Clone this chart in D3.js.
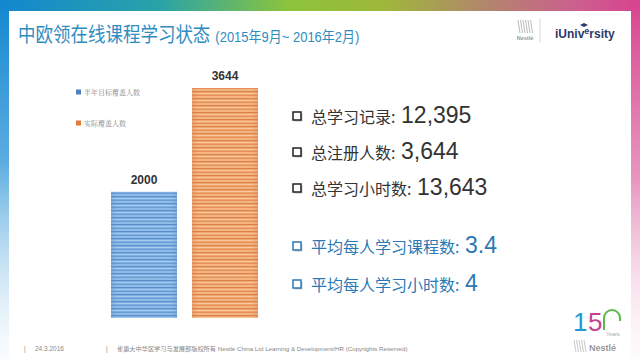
<!DOCTYPE html>
<html><head><meta charset="utf-8">
<script src="https://cdn.jsdelivr.net/npm/d3@7"></script>
<style>html,body{margin:0;padding:0;background:#fff;}svg{display:block;}</style>
</head><body>
<svg id="c" width="640" height="360"></svg>
<script>
// ---- data ----
const categories = ["半年目标覆盖人数", "实际覆盖人数"];
const values = [2000, 3644];
const barColors = ["#7db0e2", "#f2a56a"];
const legendColors = ["#4f81bd", "#e07b39"];
const stripeDark = ["#5a8ecb", "#d9824a"];
const stripeLight = ["#a6c9ee", "#f8c59c"];
const statLabels = ["总学习记录: ", "总注册人数: ", "总学习小时数: ", "平均每人学习课程数: ", "平均每人学习小时数: "];
const statValues = ["12,395", "3,644", "13,643", "3.4", "4"];
const titleMain = "中欧领在线课程学习状态";
const titleSub = "(2015年9月~ 2016年2月)";
const footerDate = "24.3.2016";
const footerText = "雀巢大中华区学习与发展部版权所有 Nestlé China Ltd Learning & Development/HR (Copyrights Reserved)";

const svg = d3.select("#c");
const defs = svg.append("defs");
const CJK = "'Noto Sans CJK SC', sans-serif";
const LAT = "'Liberation Sans', 'Noto Sans CJK SC', sans-serif";

// frame gradients
const gTop = defs.append("linearGradient").attr("id","gtop").attr("x1","0").attr("x2","1").attr("y1","0").attr("y2","0");
[["0%","#1287cf"],["25%","#2aa3a8"],["45%","#8cc43c"],["60%","#9fb83a"],["75%","#b0886a"],["90%","#cc5f8e"],["100%","#d9438f"]]
  .forEach(s=>gTop.append("stop").attr("offset",s[0]).attr("stop-color",s[1]));
const gLeft = defs.append("linearGradient").attr("id","gleft").attr("x1","0").attr("x2","0").attr("y1","0").attr("y2","1");
[["0%","#1287cf",1],["45%","#4aa3dd",0.9],["100%","#eef5fb",0.3]].forEach(s=>gLeft.append("stop").attr("offset",s[0]).attr("stop-color",s[1]).attr("stop-opacity",s[2]));
const gRight = defs.append("linearGradient").attr("id","gright").attr("x1","0").attr("x2","0").attr("y1","0").attr("y2","1");
[["0%","#d9438f",1],["50%","#e27bb0",0.8],["100%","#fbeef5",0.2]].forEach(s=>gRight.append("stop").attr("offset",s[0]).attr("stop-color",s[1]).attr("stop-opacity",s[2]));

svg.append("rect").attr("width",640).attr("height",360).attr("fill","#fff");
svg.append("rect").attr("x",0).attr("y",0).attr("width",640).attr("height",11).attr("fill","url(#gtop)");
svg.append("rect").attr("x",0).attr("y",0).attr("width",9).attr("height",360).attr("fill","url(#gleft)");
svg.append("rect").attr("x",631).attr("y",0).attr("width",9).attr("height",360).attr("fill","url(#gright)");
svg.append("rect").attr("x",9).attr("y",11).attr("width",622).attr("height",349).attr("fill","#fff");

// title
const title = svg.append("text").attr("transform","translate(18,42) scale(1,1.18)")
  .attr("fill","#2f8cc0").attr("font-family",CJK);
title.append("tspan").attr("font-size",17.5).text(titleMain);
title.append("tspan").attr("font-size",13).attr("font-family",LAT).attr("dx",5).text(titleSub);

// logos top right
const lg = svg.append("g");
for (let i=0;i<6;i++) lg.append("line").attr("x1",518+i*2.5).attr("x2",520+i*2.5).attr("y1",20).attr("y2",33).attr("stroke","#aaa").attr("stroke-width",0.8);
lg.append("text").attr("x",525).attr("y",40).attr("text-anchor","middle").attr("font-family",LAT).attr("font-size",5.5).attr("font-weight","bold").attr("fill","#999").text("Nestlé");
lg.append("line").attr("x1",540).attr("x2",540).attr("y1",19).attr("y2",42).attr("stroke","#ccc").attr("stroke-width",0.8);
const iu = lg.append("text").attr("x",555).attr("y",38).attr("font-family",LAT).attr("font-size",12).attr("font-weight","bold").attr("fill","#2b3a6b");
iu.append("tspan").text("iUniv");
iu.append("tspan").attr("font-size",9).attr("dy",-4).text("e");
iu.append("tspan").attr("dy",4).text("rsity");
lg.append("path").attr("d","M580,25 l4,-2 l4,2 l-4,2 z").attr("fill","#2b3a6b");

// bar chart
const x = d3.scaleBand().domain(categories).range([111, 258]).paddingInner(0.185).paddingOuter(0);
const y = d3.scaleLinear().domain([0, 3644]).range([318, 88]);

categories.forEach((c,i)=>{
  const p = defs.append("pattern").attr("id","st"+i).attr("patternUnits","userSpaceOnUse").attr("width",10).attr("height",7);
  p.append("rect").attr("width",10).attr("height",7).attr("fill",barColors[i]);
  p.append("rect").attr("y",0).attr("width",10).attr("height",1).attr("fill",stripeDark[i]);
  p.append("rect").attr("y",2).attr("width",10).attr("height",1).attr("fill",stripeLight[i]);
  p.append("rect").attr("y",4).attr("width",10).attr("height",0.8).attr("fill",stripeDark[i]).attr("opacity",0.7);
  p.append("rect").attr("y",5.5).attr("width",10).attr("height",1).attr("fill",stripeLight[i]);
  const eg = defs.append("linearGradient").attr("id","edge"+i).attr("x1","0").attr("x2","1");
  [["0%",0.35],["10%",0],["90%",0],["100%",0.35]].forEach(s=>eg.append("stop").attr("offset",s[0]).attr("stop-color",stripeDark[i]).attr("stop-opacity",s[1]));
});

const bars = svg.append("g").selectAll("g").data(categories).join("g");
bars.append("rect").attr("x",d=>x(d)).attr("y",(d,i)=>y(values[i])).attr("width",x.bandwidth())
  .attr("height",(d,i)=>y(0)-y(values[i])).attr("fill",(d,i)=>`url(#st${i})`);
bars.append("rect").attr("x",d=>x(d)).attr("y",(d,i)=>y(values[i])).attr("width",x.bandwidth())
  .attr("height",(d,i)=>y(0)-y(values[i])).attr("fill",(d,i)=>`url(#edge${i})`);
bars.append("text").attr("x",d=>x(d)+x.bandwidth()/2).attr("y",(d,i)=>y(values[i])-8)
  .attr("text-anchor","middle").attr("font-family",LAT).attr("font-weight","bold").attr("font-size",12).attr("fill","#333")
  .text((d,i)=>values[i]);

// legend
const leg = svg.append("g").selectAll("g").data(categories).join("g")
  .attr("transform",(d,i)=>`translate(76,${92+i*31})`);
leg.append("rect").attr("x",0).attr("y",-2.5).attr("width",5).attr("height",5).attr("fill",(d,i)=>legendColors[i]);
leg.append("text").attr("x",8).attr("y",2.5).attr("font-family","'Noto Serif CJK SC','Noto Sans CJK SC',serif").attr("font-size",7).attr("fill","#888").text(d=>d);

// stats list
const rowsY = [123, 159, 195, 253, 291];
const stats = svg.append("g").selectAll("g").data(statLabels).join("g")
  .attr("transform",(d,i)=>`translate(0,${rowsY[i]})`);
stats.append("rect").attr("x",294.5).attr("y",-9.5).attr("width",8).attr("height",8)
  .attr("fill","#555").attr("opacity",0.35);
stats.append("rect").attr("x",293).attr("y",-11).attr("width",8).attr("height",8)
  .attr("fill","#fff").attr("stroke",(d,i)=>i<3?"#222":"#2c78b4").attr("stroke-width",1.5);
const st = stats.append("text").attr("x",311).attr("fill",(d,i)=>i<3?"#333":"#2c78b4");
st.append("tspan").attr("font-family",CJK).attr("font-size",16).text(d=>d);
st.append("tspan").attr("font-family",LAT).attr("font-size",23).attr("dx",2).text((d,i)=>statValues[i]);

// footer
const ft = svg.append("g").attr("font-family",LAT).attr("font-size",6.5).attr("fill","#888");
ft.append("text").attr("x",24).attr("y",351).text("|");
ft.append("text").attr("x",35).attr("y",351).text(footerDate);
ft.append("text").attr("x",106).attr("y",351).text("|");
ft.append("text").attr("x",117).attr("y",351).attr("font-size",6.2).text(footerText);

// 150 logo
const l150 = svg.append("g");
l150.append("text").attr("x",573).attr("y",331).attr("font-family",LAT).attr("font-size",26).attr("fill","#1e9bd7").text("1");
l150.append("text").attr("x",588).attr("y",331).attr("font-family",LAT).attr("font-size",26).attr("fill","#c4418f").text("5");
l150.append("path").attr("d","M604,330 L604,318 A8,8 0 0 1 620,318 L620,321").attr("fill","none").attr("stroke","#5cb94a").attr("stroke-width",2);
l150.append("text").attr("x",606).attr("y",336).attr("font-family",LAT).attr("font-size",5.5).attr("fill","#aaa").text("Years");
for (let i=0;i<5;i++) l150.append("line").attr("x1",574+i*2.5).attr("x2",576+i*2.5).attr("y1",340).attr("y2",352).attr("stroke","#bbb").attr("stroke-width",0.8);
l150.append("text").attr("x",589).attr("y",351).attr("font-family",LAT).attr("font-size",9).attr("font-weight","bold").attr("fill","#999").text("Nestlé");
</script>
</body></html>
